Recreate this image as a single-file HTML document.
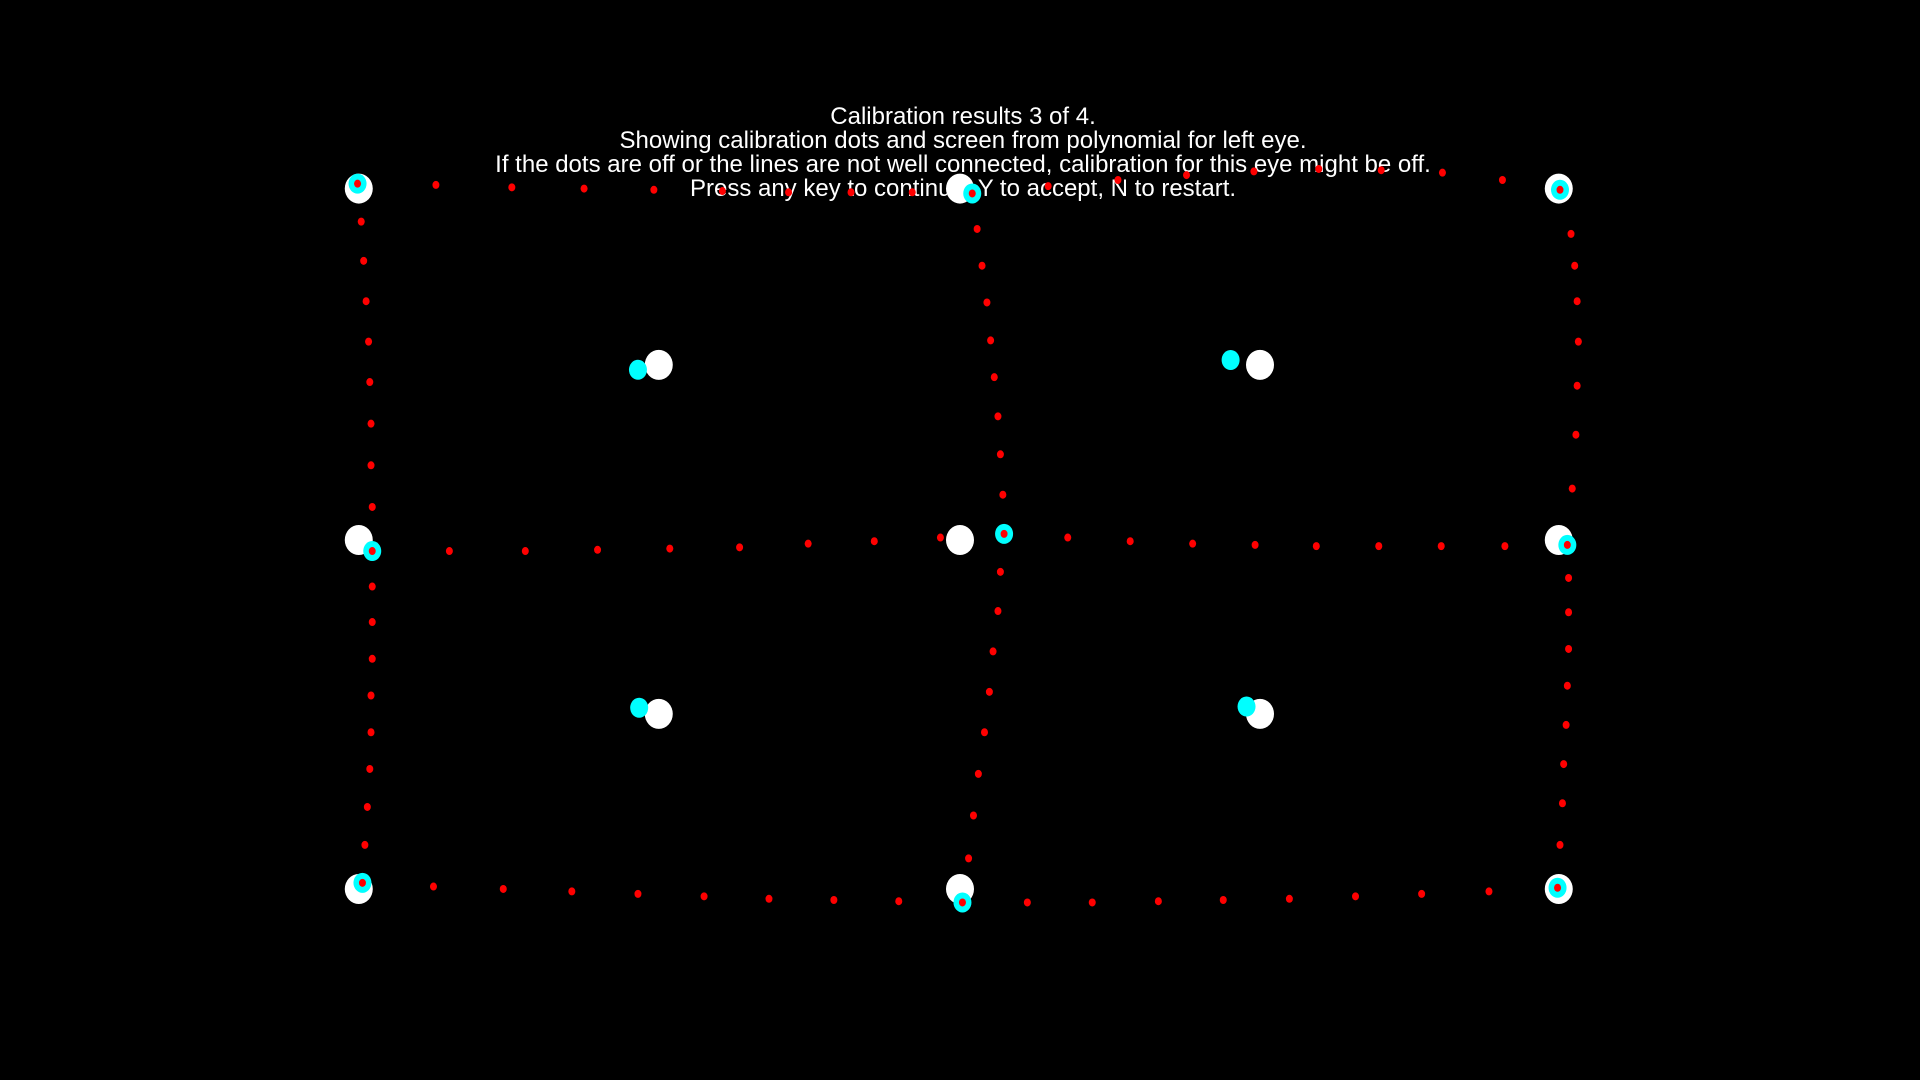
<!DOCTYPE html>
<html><head><meta charset="utf-8"><style>
html,body{margin:0;padding:0;background:#000;width:1920px;height:1080px;overflow:hidden}
svg{display:block}
text{font-family:"Liberation Sans",sans-serif;fill:#fff;font-size:24px}
</style></head><body>
<svg id="chart" width="1920" height="1080" viewBox="0 0 1920 1080">
<rect width="1920" height="1080" fill="#000"/>
<g id="title" text-anchor="middle">
<text x="963" y="124">Calibration results 3 of 4.</text>
<text x="963" y="148">Showing calibration dots and screen from polynomial for left eye.</text>
<text x="963" y="172">If the dots are off or the lines are not well connected, calibration for this eye might be off.</text>
<text x="963" y="196">Press any key to continue. Y to accept, N to restart.</text>
</g>
<g id="marks"></g>
</svg>
<script>
// values in reference (display) units; scaled by axis functions
const targetXs=[293,538,784,1029,1273];
const targetYs=[154,298,441,583,726];
const targetList=[[0,0],[2,0],[4,0],[1,1],[3,1],[0,2],[2,2],[4,2],[1,3],[3,3],[0,4],[2,4],[4,4]];
const gazeX=[292,794,1274,521,1005,304,820,1280,522,1018,296,786,1272];
const gazeY=[150,158,155,302,294,450,436,445,578,577,721,737,725];
const topRow=[[292,150],[356,151],[418,153],[477,154],[534,155],[590,156],[644,157],[695,157],[745,157],[794,158],[856,152],[913,147],[969,143],[1024,140],[1077,138],[1128,139],[1178,141],[1227,147],[1274,155]];
const leftCol=[[295,181],[297,213],[299,246],[301,279],[302,312],[303,346],[303,380],[304,414],[304,450],[304,479],[304,508],[304,538],[303,568],[303,598],[302,628],[300,659],[298,690],[296,721]];
const midRow=[[367,450],[429,450],[488,449],[547,448],[604,447],[660,444],[714,442],[768,439],[820,436],[872,439],[923,442],[974,444],[1025,445],[1075,446],[1126,446],[1177,446],[1229,446],[1280,445]];
const midCol=[[798,187],[802,217],[806,247],[809,278],[812,308],[815,340],[817,371],[819,404],[817,467],[815,499],[811,532],[808,565],[804,598],[799,632],[795,666],[791,701],[786,737]];
const rightCol=[[1283,191],[1286,217],[1288,246],[1289,279],[1288,315],[1287,355],[1284,399],[1281,472],[1281,500],[1281,530],[1280,560],[1279,592],[1277,624],[1276,656],[1274,690],[1272,725]];
const bottomRow=[[354,724],[411,726],[467,728],[521,730],[575,732],[628,734],[681,735],[734,736],[839,737],[892,737],[946,736],[999,735],[1053,734],[1107,732],[1161,730],[1216,728]];

const K=1920/1568;
function sx(v){return v*K;}
function sy(v){return v*K;}
const NS='http://www.w3.org/2000/svg';
const g=document.getElementById('marks');
function ell(cx,cy,rx,ry,fill,name){
  const e=document.createElementNS(NS,'ellipse');
  e.setAttribute('cx',cx);e.setAttribute('cy',cy);e.setAttribute('rx',rx);e.setAttribute('ry',ry);e.setAttribute('fill',fill);
  
  
  g.appendChild(e);
}
targetList.forEach(function(t){ell(sx(targetXs[t[0]]),sy(targetYs[t[1]]),14,15,'#fff','calibration-target');});
gazeX.forEach(function(x,i){ell(sx(x),sy(gazeY[i]),9,10,'#00ffff','gaze-estimate');});
[topRow,leftCol,midRow,midCol,rightCol,bottomRow].forEach(function(arr){
  arr.forEach(function(p){ell(sx(p[0]),sy(p[1]),3.5,4,'#ff0000','polynomial-point');});
});
</script>
</body></html>
